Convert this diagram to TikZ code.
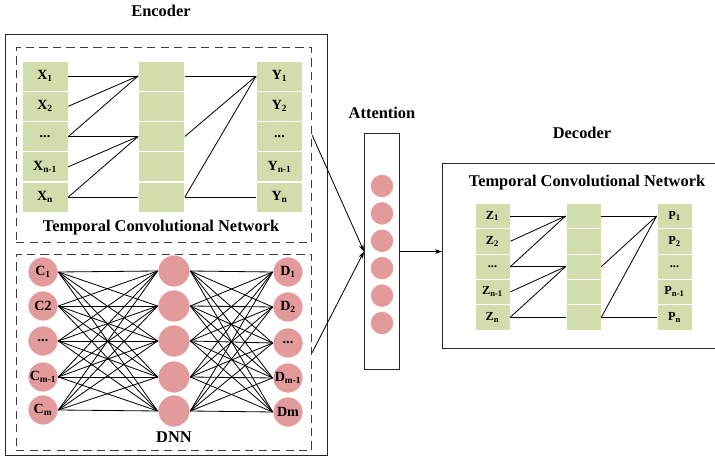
\documentclass[tikz,border=0pt]{standalone}
\usepackage{fontspec}
\setmainfont{Liberation Serif}
\usetikzlibrary{positioning, arrows.meta, calc}
\definecolor{cellgreen}{RGB}{209,221,170}
\definecolor{unitpink}{RGB}{227,154,154}
\definecolor{dashgray}{RGB}{60,60,60}
\newcommand{\tridot}{...}

\begin{document}
\begin{tikzpicture}[x=0.03cm, y=-0.03cm,
    cell/.style={rectangle, fill=cellgreen, draw=white, line width=0.6pt, minimum width=1.38cm, minimum height=0.9cm, inner sep=0pt, font=\fontsize{12}{12}\selectfont\bfseries},
    smallcell/.style={cell, minimum width=1.05cm, minimum height=0.76cm, font=\fontsize{10.5}{10.5}\selectfont\bfseries},
    unit/.style={circle, fill=unitpink, draw=white, line width=0.6pt, minimum size=0.9cm, inner sep=0pt, font=\fontsize{12}{12}\selectfont\bfseries},
    bigunit/.style={unit, minimum size=0.96cm},
    attunit/.style={unit, minimum size=0.7cm},
    dashbox/.style={rectangle, draw=dashgray, dash pattern=on 7pt off 4.5pt, line width=1pt, inner sep=0pt, anchor=north west},
    solidbox/.style={rectangle, draw=black!85, line width=0.9pt, inner sep=0pt, anchor=north west},
    title/.style={font=\fontsize{14}{14}\selectfont\bfseries},
    link/.style={line width=0.7pt},
    arrow/.style={link, -{Stealth[length=6pt, width=4pt]}}
]
\path[use as bounding box, clip] (0,0) rectangle (715,459);

% encoder frame
\node[title] (enctitle) at (161,11) {Encoder};
\node[solidbox, minimum width=9.675cm, minimum height=12.63cm] (enc) at (4.5,34) {};
\node[dashbox, minimum width=8.865cm, minimum height=5.85cm] (tcnA) at (15.5,47) {};
\node[dashbox, minimum width=8.865cm, minimum height=5.88cm] (dnnA) at (15.5,254) {};

% encoder TCN
\foreach \i/\t in {1/{X\textsubscript{1}},2/{X\textsubscript{2}},3/\tridot,4/{X\textsubscript{n-1}},5/{X\textsubscript{n}}}
    \node[cell] (x\i) at (45,{76+30.25*(\i-1)}) {\t};
\foreach \i in {1,...,5}
    \node[cell] (em\i) at (161.5,{76+30.25*(\i-1)}) {};
\foreach \i/\t in {1/{Y\textsubscript{1}},2/{Y\textsubscript{2}},3/\tridot,4/{Y\textsubscript{n-1}},5/{Y\textsubscript{n}}}
    \node[cell] (y\i) at (279.5,{76+30.25*(\i-1)}) {\t};
\foreach \a/\b in {1/1,2/1,3/1,3/3,4/3,5/3,5/5}
    \draw[link] (x\a.east) -- (em\b.west);
\foreach \a/\b in {1/1,3/1,5/1,5/5}
    \draw[link] (em\a.east) -- (y\b.west);
\node[title] (tcnlabA) at (161,228) {Temporal Convolutional Network};

% encoder DNN
\foreach \i/\t/\yy in {1/{C\textsubscript{1}}/272,2/C2/306,3/\tridot/341,4/{C\textsubscript{m-1}}/377,5/{C\textsubscript{m}}/410}
    \node[unit] (c\i) at (43,\yy) {\t};
\foreach \i/\yy in {1/271,2/306,3/341,4/377,5/411}
    \node[bigunit] (h\i) at (174,\yy) {};
\foreach \i/\t/\yy in {1/{D\textsubscript{1}}/272,2/{D\textsubscript{2}}/307,3/\tridot/343,4/{D\textsubscript{m-1}}/378,5/Dm/412}
    \node[unit] (d\i) at (288,\yy) {\t};
\foreach \a in {1,...,5}
    \foreach \b in {1,...,5} {
        \draw[link] (c\a.east) -- (h\b.west);
        \draw[link] (h\a.east) -- (d\b.west);
    }
\node[title] (dnnlab) at (174,437) {DNN};

% attention
\node[title] (atttitle) at (382,113) {Attention};
\node[solidbox, minimum width=1.05cm, minimum height=7.08cm] (att) at (364,133) {};
\foreach \i in {1,...,6}
    \node[attunit] (a\i) at (382,{186+27.4*(\i-1)}) {};

% decoder
\node[title] (dectitle) at (582,133) {Decoder};
\node[solidbox, minimum width=8.4cm, minimum height=5.55cm] (dec) at (442,163) {};
\node[title] (tcnlabB) at (587,183) {Temporal Convolutional Network};
\foreach \i/\t in {1/{Z\textsubscript{1}},2/{Z\textsubscript{2}},3/\tridot,4/{Z\textsubscript{n-1}},5/{Z\textsubscript{n}}}
    \node[smallcell] (z\i) at (492.5,{216+25.3*(\i-1)}) {\t};
\foreach \i in {1,...,5}
    \node[smallcell] (dm\i) at (583.5,{216+25.3*(\i-1)}) {};
\foreach \i/\t in {1/{P\textsubscript{1}},2/{P\textsubscript{2}},3/\tridot,4/{P\textsubscript{n-1}},5/{P\textsubscript{n}}}
    \node[smallcell] (p\i) at (674.5,{216+25.3*(\i-1)}) {\t};
\foreach \a/\b in {1/1,2/1,3/1,3/3,4/3,5/3,5/5}
    \draw[link] (z\a.east) -- (dm\b.west);
\foreach \a/\b in {1/1,3/1,5/1,5/5}
    \draw[link] (dm\a.east) -- (p\b.west);

% arrows
\draw[arrow] ($(tcnA.north east)!0.45!(tcnA.south east)$) -- (att.west);
\draw[arrow] (dnnA.east) -- (att.west);
\draw[arrow] (att.east) -- (att.east -| dec.west);
\end{tikzpicture}
\end{document}
